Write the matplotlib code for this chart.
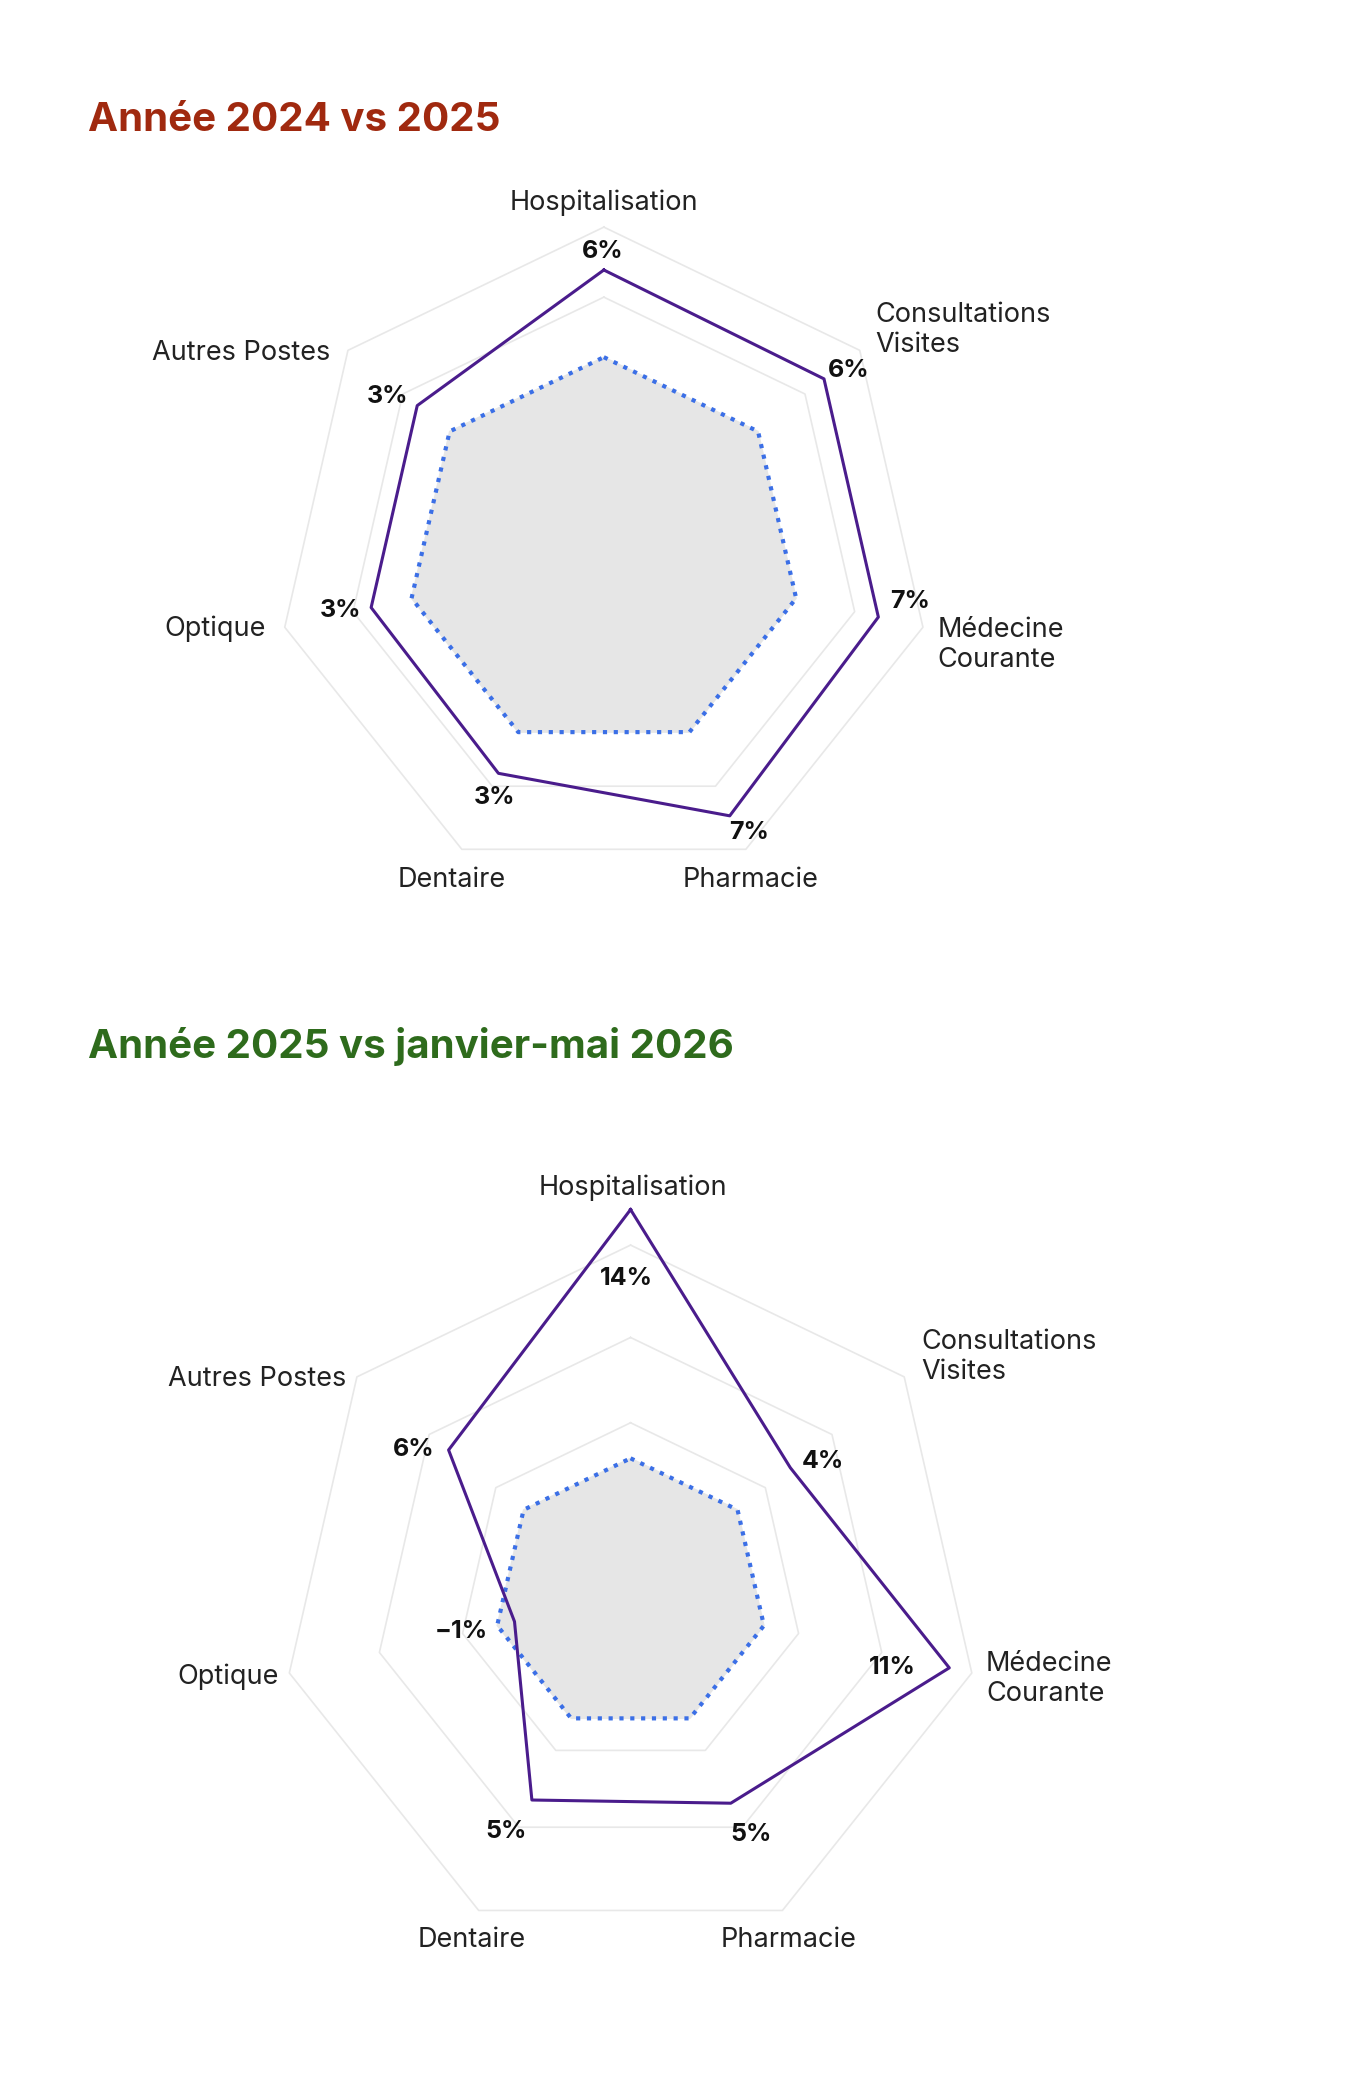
import numpy as np
import matplotlib
matplotlib.use("Agg")
import matplotlib.pyplot as plt

plt.rcParams['font.family'] = ['Inter', 'DejaVu Sans']

categories = ["Hospitalisation", "Consultations\nVisites", "Médecine\nCourante",
              "Pharmacie", "Dentaire", "Optique", "Autres Postes"]

# Chart 1: Année 2024 vs 2025
vals1 = [6.1, 5.9, 5.9, 6.5, 3.2, 2.9, 2.9]
labels1 = ["6%", "6%", "7%", "7%", "3%", "3%", "3%"]
# Chart 2: Année 2025 vs janvier-mai 2026
vals2 = [14.0, 3.8, 10.7, 5.3, 5.1, -1.0, 5.4]
labels2 = ["14%", "4%", "11%", "5%", "5%", "\u22121%", "6%"]

W, H = 1368, 2084
S = 1368 / 1024.0
fig = plt.figure(figsize=(W / 100, H / 100), dpi=100)
fig.patch.set_facecolor("white")

def P(x, y):
    return (x * S / W, 1 - y * S / H)

def radar(cx, cy, R, rmin, rmax, rings, vals, vlabels, vpos, cpos, title, tcolor, ty):
    rect = [(cx - R) * S / W, 1 - (cy + R) * S / H, 2 * R * S / W, 2 * R * S / H]
    ax = fig.add_axes(rect, projection="polar")
    ax.set_theta_zero_location("N")
    ax.set_theta_direction(-1)
    ax.set_ylim(rmin, rmax)
    ax.axis("off")
    n = len(vals)
    th = np.linspace(0, 2 * np.pi, n, endpoint=False)
    thc = np.append(th, th[0])
    for rv in rings:
        ax.plot(thc, [rv] * (n + 1), color="#e8e8e8", lw=1.2, clip_on=False)
    base = [0.0] * (n + 1)
    ax.fill(thc, base, color="#e6e6e6", zorder=1)
    ax.plot(thc, base, color="#3b6fe6", lw=3, ls=(0, (1, 1.6)), zorder=3, clip_on=False)
    vc = list(vals) + [vals[0]]
    ax.plot(thc, vc, color="#4a1c8c", lw=2.2, zorder=4, clip_on=False)
    for lab, (x, y) in zip(vlabels, vpos):
        fig.text(*P(x, y), lab, ha="center", va="center", fontsize=18, fontweight="bold", color="#111111")
    for cat, (x, y, ha) in zip(categories, cpos):
        fig.text(*P(x, y), cat, ha=ha, va="center", fontsize=19.5, color="#222222", linespacing=1.2)
    fig.text(*P(66, ty), title, ha="left", va="center", fontsize=29, fontweight="bold", color=tcolor)

radar(452, 415, 245, -13.8, 9.1, [9.1, 4.2], vals1, labels1,
      [(451, 188), (635, 277), (681, 450), (561, 623), (370, 597), (255, 457), (290, 297)],
      [(452, 152, "center"), (655, 247, "left"), (702, 483, "left"), (562, 659, "center"),
       (338, 659, "center"), (199, 471, "right"), (247, 264, "right")],
      "Année 2024 vs 2025", "#a0290f", 90)

radar(472, 1194, 262, -7.7, 12.0, [12.0, 6.8, 2.0], vals2, labels2,
      [(469, 957), (616, 1094), (668, 1248), (562, 1373), (379, 1371), (345, 1221), (310, 1085)],
      [(474, 889, "center"), (690, 1016, "left"), (738, 1257, "left"), (590, 1452, "center"),
       (353, 1452, "center"), (209, 1255, "right"), (259, 1032, "right")],
      "Année 2025 vs janvier-mai 2026", "#2e6b1c", 783)

fig.savefig("out.png", dpi=100, facecolor="white")
